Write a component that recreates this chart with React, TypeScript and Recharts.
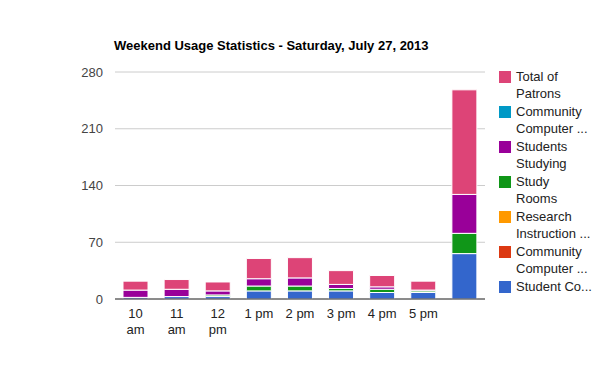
import React from "react";
import { BarChart, Bar, XAxis, YAxis, CartesianGrid } from "recharts";

const categories = ["10 am", "11 am", "12 pm", "1 pm", "2 pm", "3 pm", "4 pm", "5 pm", ""];
const studentCo = [2, 3, 3, 10, 10, 10, 8, 8, 56];
const communityComputerB = [0, 0, 0, 0, 0, 0, 0, 0, 0];
const researchInstruction = [0, 0, 0, 0, 0, 0, 0, 0, 0];
const studyRooms = [0, 0, 2, 6, 6, 3, 4, 2, 25];
const studentsStudying = [9, 9, 5, 9, 10, 5, 3, 1, 48];
const communityComputerA = [0, 0, 0, 0, 0, 0, 0, 0, 0];
const totalPatrons = [11, 12, 11, 25, 25, 17, 14, 11, 129];
const yTicks = [0, 70, 140, 210, 280];

const title = "Weekend Usage Statistics - Saturday, July 27, 2013";

// bottom-to-top stacking order
const series = [
  { key: "studentCo", values: studentCo, color: "#3366cc", legend: ["Student Co..."] },
  { key: "communityComputerB", values: communityComputerB, color: "#dc3912", legend: ["Community", "Computer ..."] },
  { key: "researchInstruction", values: researchInstruction, color: "#ff9900", legend: ["Research", "Instruction ..."] },
  { key: "studyRooms", values: studyRooms, color: "#109618", legend: ["Study", "Rooms"] },
  { key: "studentsStudying", values: studentsStudying, color: "#990099", legend: ["Students", "Studying"] },
  { key: "communityComputerA", values: communityComputerA, color: "#0099c6", legend: ["Community", "Computer ..."] },
  { key: "totalPatrons", values: totalPatrons, color: "#dd4477", legend: ["Total of", "Patrons"] },
];

const data = categories.map((c, i) => {
  const row: any = { name: c };
  series.forEach((s) => (row[s.key] = s.values[i]));
  return row;
});

const FONT = "Arial, 'Liberation Sans', sans-serif";

const XTick = (props: any) => {
  const { x, y, payload } = props;
  const label: string = payload.value || "";
  const lines = label.length > 4 ? label.split(" ") : [label];
  return (
    <g>
      {lines.map((l, i) => (
        <text key={i} x={x} y={y + 17 + i * 16} textAnchor="middle" fill="#222" fontSize={13} fontFamily={FONT}>
          {l}
        </text>
      ))}
    </g>
  );
};

const LegendBox = () => {
  const items = [...series].reverse();
  return (
    <div style={{ position: "absolute", left: 499, top: 71, width: 100 }}>
      {items.map((s, i) => (
        <div key={s.key} style={{ position: "absolute", left: 0, top: i * 35 }}>
          <div style={{ position: "absolute", left: 0, top: 0, width: 12, height: 12, background: s.color }} />
          {s.legend.map((l, j) => (
            <div
              key={j}
              style={{
                position: "absolute",
                left: 17,
                top: -2 + j * 17,
                whiteSpace: "nowrap",
                fontSize: 13,
                fontFamily: FONT,
                color: "#222",
                lineHeight: "16px",
              }}
            >
              {l}
            </div>
          ))}
        </div>
      ))}
    </div>
  );
};

export default function App() {
  return (
    <div style={{ position: "absolute", left: 0, top: 0, width: 600, height: 371, background: "#fff" }}>
      <div
        style={{
          position: "absolute",
          left: 114,
          top: 38,
          fontSize: 13,
          fontWeight: "bold",
          fontFamily: FONT,
          color: "#000",
          whiteSpace: "nowrap",
        }}
      >
        {title}
      </div>
      <BarChart width={600} height={371} data={data} margin={{ top: 72, right: 115, bottom: 32, left: 75 }}>
        <CartesianGrid horizontal={true} vertical={false} stroke="#cccccc" />
        <XAxis
          dataKey="name"
          tick={<XTick />}
          tickLine={false}
          tickSize={0}
          axisLine={{ stroke: "#333333", strokeWidth: 1 }}
          height={40}
          interval={0}
        />
        <YAxis
          domain={[0, 280]}
          ticks={yTicks}
          width={40}
          tickSize={0}
          tickMargin={12}
          tickLine={false}
          axisLine={false}
          tick={{ fill: "#444", fontSize: 13, fontFamily: FONT }}
        />
        {series.map((s) => (
          <Bar
            key={s.key}
            dataKey={s.key}
            stackId="a"
            fill={s.color}
            stroke="#ffffff"
            strokeWidth={1}
            barSize={25}
            isAnimationActive={false}
          />
        ))}
      </BarChart>
      <LegendBox />
    </div>
  );
}
